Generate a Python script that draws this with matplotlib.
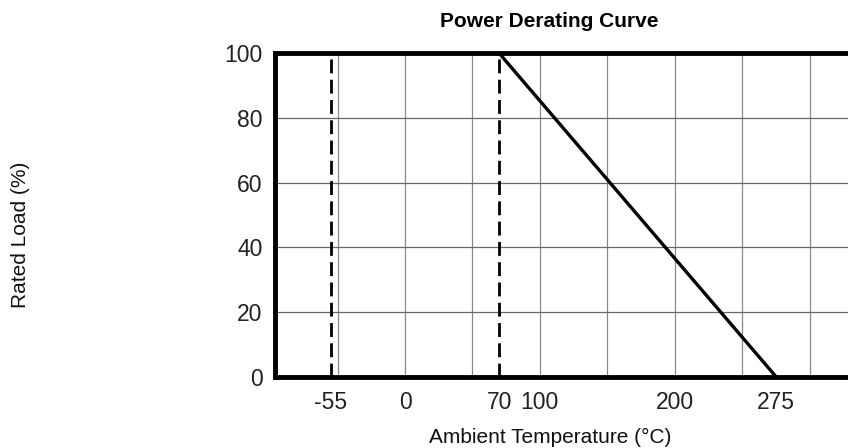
import matplotlib
matplotlib.use("Agg")
import matplotlib.pyplot as plt

plt.rcParams['font.family'] = ['Liberation Sans', 'DejaVu Sans']

# derating curve: full load up to 70 C, down to zero at 275 C
curve_temp = [70, 275]
curve_load = [100, 0]
# operating limits (dashed)
limit_temps = [-55, 70]

xticks = [-55, 0, 70, 100, 200, 275]
yticks = [0, 20, 40, 60, 80, 100]
grid_x = [-50, 0, 50, 100, 150, 200, 250, 300]

fig = plt.figure(figsize=(8.48, 4.48), dpi=100)
ax = fig.add_axes([275 / 848, 71.5 / 448, 1 - 275 / 848, 323 / 448])

ax.set_xlim(-96.4, 328.5)
ax.set_ylim(0, 100)

for gx in grid_x:
    ax.axvline(gx, color='#8a8a8a', lw=0.9, zorder=1)
for gy in yticks[1:-1]:
    ax.axhline(gy, color='#666666', lw=0.9, zorder=1)

for t in limit_temps:
    ax.plot([t, t], [0, 100], color='black', lw=2.0,
            linestyle=(0, (5, 2.3)), zorder=3)

ax.plot(curve_temp, curve_load, color='black', lw=2.4, zorder=3,
        solid_capstyle='butt')

ax.set_xticks(xticks)
ax.set_xticklabels([str(v) for v in xticks])
ax.set_yticks(yticks)
ax.tick_params(axis='both', length=0, labelsize=16.5, colors='#222222')
ax.tick_params(axis='x', pad=10.5)
ax.tick_params(axis='y', pad=9)

for side in ['left', 'bottom', 'top']:
    ax.spines[side].set_linewidth(3.5)
    ax.spines[side].set_color('black')
ax.spines['right'].set_visible(False)

fig.text(549.5 / 848, 1 - 26.7 / 448, 'Power Derating Curve',
         ha='center', va='baseline', fontsize=15, fontweight='bold')
fig.text(550 / 848, 1 - 443 / 448, 'Ambient Temperature (°C)',
         ha='center', va='baseline', fontsize=15, color='#111111')
fig.text(21 / 848, 1 - 234.5 / 448, 'Rated Load (%)', rotation=90,
         ha='center', va='center', fontsize=15, color='#111111')

fig.savefig('out.png', dpi=100)
